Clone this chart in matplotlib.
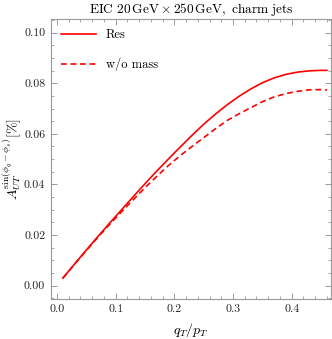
import matplotlib
matplotlib.use("Agg")
import matplotlib.pyplot as plt
from matplotlib.ticker import MultipleLocator, FormatStrFormatter

plt.rcParams['font.family'] = 'serif'
plt.rcParams['font.serif'] = ['cmr10']
plt.rcParams['mathtext.fontset'] = 'cm'
plt.rcParams['axes.formatter.use_mathtext'] = True

x = [0.01, 0.03, 0.05, 0.07, 0.09, 0.11, 0.13, 0.15, 0.17, 0.19, 0.21, 0.23,
     0.25, 0.27, 0.29, 0.31, 0.33, 0.35, 0.37, 0.39, 0.41, 0.43, 0.45, 0.46]
res = [0.0030, 0.0086, 0.0141, 0.0195, 0.0248, 0.0300, 0.0352, 0.0403, 0.0453,
       0.0501, 0.0548, 0.0594, 0.0638, 0.0678, 0.0715, 0.0748, 0.0777, 0.0802,
       0.0821, 0.0835, 0.0844, 0.0849, 0.0851, 0.0851]
nomass = [0.0030, 0.0085, 0.0139, 0.0192, 0.0243, 0.0292, 0.0340, 0.0387, 0.0432,
          0.0475, 0.0514, 0.0550, 0.0585, 0.0620, 0.0653, 0.0679, 0.0703, 0.0727,
          0.0746, 0.0759, 0.0768, 0.0774, 0.0775, 0.0773]

title = r"$\mathrm{EIC}\ 20\,\mathrm{GeV}\times 250\,\mathrm{GeV},\ \mathrm{charm\ jets}$"
xlabel = r"$q_T/p_T$"
ylabel = r"$A_{UT}^{\sin(\phi_q-\phi_s)}[\%]$"

fig = plt.figure(figsize=(3.32, 3.39), dpi=100)
ax = fig.add_axes([0.1527, 0.1171, 0.8443, 0.8269])
ax.plot(x, res, color='#ff0000', lw=1.2, label='Res')
ax.plot(x, nomass, color='#ff0000', lw=1.2, ls=(0, (3.5, 2.2)), label='w/o mass')

ax.set_xlim(-0.0108, 0.467)
ax.set_ylim(-0.0054, 0.1054)
ax.xaxis.set_major_locator(MultipleLocator(0.1))
ax.xaxis.set_minor_locator(MultipleLocator(0.02))
ax.yaxis.set_major_locator(MultipleLocator(0.02))
ax.yaxis.set_minor_locator(MultipleLocator(0.005))
ax.xaxis.set_major_formatter(FormatStrFormatter('%.1f'))
ax.yaxis.set_major_formatter(FormatStrFormatter('%.2f'))

gray = '#999999'
for s in ax.spines.values():
    s.set_color(gray)
    s.set_linewidth(0.8)
ax.tick_params(which='both', direction='in', top=True, right=True, color=gray,
               labelsize=8.5, labelcolor='#222222')
ax.tick_params(which='major', length=4, width=0.7, pad=4)
ax.tick_params(which='minor', length=2.2, width=0.6)

ax.set_title(title, fontsize=9.6, pad=4)
ax.set_xlabel(xlabel, fontsize=10, labelpad=5)
ax.set_ylabel(ylabel, fontsize=10, labelpad=1)

leg = ax.legend(loc='upper left', frameon=False, fontsize=9, handlelength=2.8,
                labelspacing=1.35, borderaxespad=0.5, handletextpad=0.8,
                borderpad=0.3)

fig.savefig('out.png', dpi=100)
